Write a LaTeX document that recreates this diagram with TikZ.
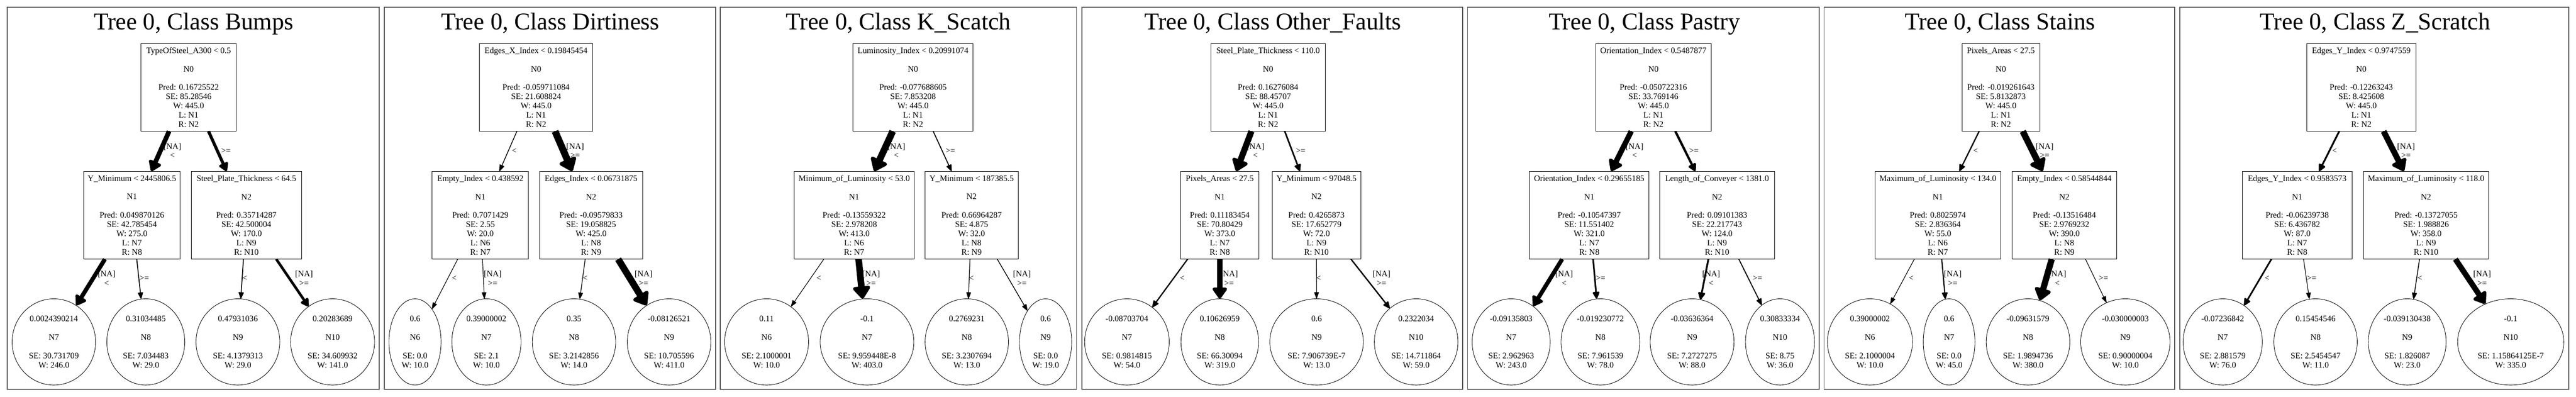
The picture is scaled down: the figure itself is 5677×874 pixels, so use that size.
\documentclass[tikz,border=0pt]{standalone}
\usepackage{fontspec}
\setmainfont{Liberation Serif}
\usetikzlibrary{arrows.meta,shapes.geometric}
\newcommand\gvnf{\fontsize{18.5}{20.3}\selectfont}
\newcommand\gvtf{\fontsize{53}{60}\selectfont}
\tikzset{
  panel/.style={draw=black!67, line width=2pt},
  inner/.style={draw, rectangle, line width=1pt, inner sep=0pt, minimum height=192.8pt, align=center, font=\gvnf},
  leaf/.style={draw, ellipse, line width=1pt, inner sep=0pt, minimum height=190pt, align=center, font=\gvnf},
  elab/.style={inner sep=0pt, align=center, font=\gvnf},
  ttl/.style={inner sep=0pt, anchor=base, font=\gvtf},
  wt/.code={\pgfmathsetmacro\gvlw{1+15*#1/445}\pgfmathsetmacro\gval{14+1.1*\gvlw}\pgfmathsetmacro\gvaw{7+2.5*\gvlw}\tikzset{line width=\gvlw pt,-{Triangle[round,length=\gval pt,width=\gvaw pt]}}}
}
\begin{document}
\begin{tikzpicture}[x=1pt,y=-1pt]
\useasboundingbox (0,0) rectangle (5677,874);
% panels
\draw[panel] (15.7,15.6) rectangle (836,857);
\draw[panel] (846.6,15.6) rectangle (1577.1,857);
\draw[panel] (1587.6,15.6) rectangle (2372.3,857);
\draw[panel] (2384,15.6) rectangle (3223.6,857);
\draw[panel] (3234.2,15.6) rectangle (4009.3,857);
\draw[panel] (4019.8,15.6) rectangle (4792.8,857);
\draw[panel] (4803.4,15.6) rectangle (5660.7,857);
% titles
\node[ttl] (ta) at (427,65) {Tree 0, Class Bumps};
\node[ttl] (tb) at (1213,65) {Tree 0, Class Dirtiness};
\node[ttl] (tc) at (1980,65) {Tree 0, Class K\_Scatch};
\node[ttl] (td) at (2805,65) {Tree 0, Class Other\_Faults};
\node[ttl] (te) at (3624,65) {Tree 0, Class Pastry};
\node[ttl] (tf) at (4407.5,65) {Tree 0, Class Stains};
\node[ttl] (tg) at (5234.5,65) {Tree 0, Class Z\_Scratch};

% ---------- Panel A: Bumps
\node[inner, minimum width=210.6pt] (a0) at (415.7,192.3) {TypeOfSteel\_A300 < 0.5\\[20.3pt]N0\\[20.3pt]Pred: 0.16725522\\SE: 85.28546\\W: 445.0\\L: N1\\R: N2};
\node[inner, minimum width=213.1pt] (a1) at (290.75,473.8) {Y\_Minimum < 2445806.5\\[20.3pt]N1\\[20.3pt]Pred: 0.049870126\\SE: 42.785454\\W: 275.0\\L: N7\\R: N8};
\node[inner, minimum width=242.7pt] (a2) at (542.95,473.8) {Steel\_Plate\_Thickness < 64.5\\[20.3pt]N2\\[20.3pt]Pred: 0.35714287\\SE: 42.500004\\W: 170.0\\L: N9\\R: N10};
\node[leaf, minimum width=184pt] (a7) at (118.7,753) {0.0024390214\\[20.3pt]N7\\[20.3pt]SE: 30.731709\\W: 246.0};
\node[leaf, minimum width=171.7pt] (a8) at (321.3,753) {0.31034485\\[20.3pt]N8\\[20.3pt]SE: 7.034483\\W: 29.0};
\node[leaf, minimum width=184.6pt] (a9) at (524.3,753) {0.47931036\\[20.3pt]N9\\[20.3pt]SE: 4.1379313\\W: 29.0};
\node[leaf, minimum width=185pt] (a10) at (733,753) {0.20283689\\[20.3pt]N10\\[20.3pt]SE: 34.609932\\W: 141.0};
\node[elab] (la01) at (380,332) {[NA]\\<};
\node[elab] (la02) at (498,332) {>=};
\node[elab] (la17) at (235,613) {[NA]\\<};
\node[elab] (la18) at (318,613) {>=};
\node[elab] (la29) at (539.6,613) {<};
\node[elab] (la210) at (670,613) {[NA]\\>=};
\draw[wt=275] (a0) -- (a1);
\draw[wt=170] (a0) -- (a2);
\draw[wt=246] (a1) -- (a7);
\draw[wt=29] (a1) -- (a8);
\draw[wt=29] (a2) -- (a9);
\draw[wt=141] (a2) -- (a10);

% ---------- Panel B: Dirtiness
\node[inner, minimum width=250.4pt] (b0) at (1181.4,192.3) {Edges\_X\_Index < 0.19845454\\[20.3pt]N0\\[20.3pt]Pred: -0.059711084\\SE: 21.608824\\W: 445.0\\L: N1\\R: N2};
\node[inner, minimum width=212.2pt] (b1) at (1058.6,473.8) {Empty\_Index < 0.438592\\[20.3pt]N1\\[20.3pt]Pred: 0.7071429\\SE: 2.55\\W: 20.0\\L: N6\\R: N7};
\node[inner, minimum width=227.1pt] (b2) at (1302.65,473.8) {Edges\_Index < 0.06731875\\[20.3pt]N2\\[20.3pt]Pred: -0.09579833\\SE: 19.058825\\W: 425.0\\L: N8\\R: N9};
\node[leaf, minimum width=114.9pt] (b6) at (914.6,753) {0.6\\[20.3pt]N6\\[20.3pt]SE: 0.0\\W: 10.0};
\node[leaf, minimum width=152.4pt] (b7) at (1072,753) {0.39000002\\[20.3pt]N7\\[20.3pt]SE: 2.1\\W: 10.0};
\node[leaf, minimum width=183.7pt] (b8) at (1265,753) {0.35\\[20.3pt]N8\\[20.3pt]SE: 3.2142856\\W: 14.0};
\node[leaf, minimum width=184.2pt] (b9) at (1474.5,753) {-0.08126521\\[20.3pt]N9\\[20.3pt]SE: 10.705596\\W: 411.0};
\node[elab] (lb01) at (1133.5,332) {<};
\node[elab] (lb02) at (1267.4,332) {[NA]\\>=};
\node[elab] (lb16) at (1001,613) {<};
\node[elab] (lb17) at (1085.9,613) {[NA]\\>=};
\node[elab] (lb28) at (1289.7,613) {<};
\node[elab] (lb29) at (1418.3,613) {[NA]\\>=};
\draw[wt=20] (b0) -- (b1);
\draw[wt=425] (b0) -- (b2);
\draw[wt=10] (b1) -- (b6);
\draw[wt=10] (b1) -- (b7);
\draw[wt=14] (b2) -- (b8);
\draw[wt=411] (b2) -- (b9);

% ---------- Panel C: K_Scatch
\node[inner, minimum width=264.2pt] (c0) at (2012.1,192.3) {Luminosity\_Index < 0.20991074\\[20.3pt]N0\\[20.3pt]Pred: -0.077688605\\SE: 7.853208\\W: 445.0\\L: N1\\R: N2};
\node[inner, minimum width=264.1pt] (c1) at (1882.35,473.8) {Minimum\_of\_Luminosity < 53.0\\[20.3pt]N1\\[20.3pt]Pred: -0.13559322\\SE: 2.978208\\W: 413.0\\L: N6\\R: N7};
\node[inner, minimum width=204.9pt] (c2) at (2141.25,473.8) {Y\_Minimum < 187385.5\\[20.3pt]N2\\[20.3pt]Pred: 0.66964287\\SE: 4.875\\W: 32.0\\L: N8\\R: N9};
\node[leaf, minimum width=185pt] (c6) at (1689.4,753) {0.11\\[20.3pt]N6\\[20.3pt]SE: 2.1000001\\W: 10.0};
\node[leaf, minimum width=206.5pt] (c7) at (1910.7,753) {-0.1\\[20.3pt]N7\\[20.3pt]SE: 9.959448E-8\\W: 403.0};
\node[leaf, minimum width=183.7pt] (c8) at (2130.6,753) {0.2769231\\[20.3pt]N8\\[20.3pt]SE: 3.2307694\\W: 13.0};
\node[leaf, minimum width=114.9pt] (c9) at (2304.3,753) {0.6\\[20.3pt]N9\\[20.3pt]SE: 0.0\\W: 19.0};
\node[elab] (lc01) at (1975.3,332) {[NA]\\<};
\node[elab] (lc02) at (2094.4,332) {>=};
\node[elab] (lc16) at (1804.3,613) {<};
\node[elab] (lc17) at (1919.7,613) {[NA]\\>=};
\node[elab] (lc28) at (2141,613) {<};
\node[elab] (lc29) at (2252.1,613) {[NA]\\>=};
\draw[wt=413] (c0) -- (c1);
\draw[wt=32] (c0) -- (c2);
\draw[wt=10] (c1) -- (c6);
\draw[wt=403] (c1) -- (c7);
\draw[wt=13] (c2) -- (c8);
\draw[wt=19] (c2) -- (c9);

% ---------- Panel D: Other_Faults
\node[inner, minimum width=251.5pt] (d0) at (2794.55,192.3) {Steel\_Plate\_Thickness < 110.0\\[20.3pt]N0\\[20.3pt]Pred: 0.16276084\\SE: 88.45707\\W: 445.0\\L: N1\\R: N2};
\node[inner, minimum width=172.1pt] (d1) at (2688.15,473.8) {Pixels\_Areas < 27.5\\[20.3pt]N1\\[20.3pt]Pred: 0.11183454\\SE: 70.80429\\W: 373.0\\L: N7\\R: N8};
\node[inner, minimum width=194.8pt] (d2) at (2901.2,473.8) {Y\_Minimum < 97048.5\\[20.3pt]N2\\[20.3pt]Pred: 0.4265873\\SE: 17.652779\\W: 72.0\\L: N9\\R: N10};
\node[leaf, minimum width=186.4pt] (d7) at (2483.5,753) {-0.08703704\\[20.3pt]N7\\[20.3pt]SE: 0.9814815\\W: 54.0};
\node[leaf, minimum width=171pt] (d8) at (2688.1,753) {0.10626959\\[20.3pt]N8\\[20.3pt]SE: 66.30094\\W: 319.0};
\node[leaf, minimum width=206pt] (d9) at (2901.5,753) {0.6\\[20.3pt]N9\\[20.3pt]SE: 7.906739E-7\\W: 13.0};
\node[leaf, minimum width=184.2pt] (d10) at (3120.9,753) {0.2322034\\[20.3pt]N10\\[20.3pt]SE: 14.711864\\W: 59.0};
\node[elab] (ld01) at (2766.7,332) {[NA]\\<};
\node[elab] (ld02) at (2866.3,332) {>=};
\node[elab] (ld17) at (2605.3,613) {<};
\node[elab] (ld18) at (2708.5,613) {[NA]\\>=};
\node[elab] (ld29) at (2906,613) {<};
\node[elab] (ld210) at (3044.7,613) {[NA]\\>=};
\draw[wt=373] (d0) -- (d1);
\draw[wt=72] (d0) -- (d2);
\draw[wt=54] (d1) -- (d7);
\draw[wt=319] (d1) -- (d8);
\draw[wt=13] (d2) -- (d9);
\draw[wt=59] (d2) -- (d10);

% ---------- Panel E: Pastry
\node[inner, minimum width=254.6pt] (e0) at (3643.7,192.3) {Orientation\_Index < 0.5487877\\[20.3pt]N0\\[20.3pt]Pred: -0.050722316\\SE: 33.769146\\W: 445.0\\L: N1\\R: N2};
\node[inner, minimum width=263.1pt] (e1) at (3502.35,473.8) {Orientation\_Index < 0.29655185\\[20.3pt]N1\\[20.3pt]Pred: -0.10547397\\SE: 11.551402\\W: 321.0\\L: N7\\R: N8};
\node[inner, minimum width=252.6pt] (e2) at (3784,473.8) {Length\_of\_Conveyer < 1381.0\\[20.3pt]N2\\[20.3pt]Pred: 0.09101383\\SE: 22.217743\\W: 124.0\\L: N9\\R: N10};
\node[leaf, minimum width=172pt] (e7) at (3330.3,753) {-0.09135803\\[20.3pt]N7\\[20.3pt]SE: 2.962963\\W: 243.0};
\node[leaf, minimum width=173.6pt] (e8) at (3527,753) {-0.019230772\\[20.3pt]N8\\[20.3pt]SE: 7.961539\\W: 78.0};
\node[leaf, minimum width=184.8pt] (e9) at (3729,753) {-0.03636364\\[20.3pt]N9\\[20.3pt]SE: 7.2727275\\W: 88.0};
\node[leaf, minimum width=152pt] (e10) at (3922.7,753) {0.30833334\\[20.3pt]N10\\[20.3pt]SE: 8.75\\W: 36.0};
\node[elab] (le01) at (3602.2,332) {[NA]\\<};
\node[elab] (le02) at (3732.9,332) {>=};
\node[elab] (le17) at (3447,613) {[NA]\\<};
\node[elab] (le18) at (3527.5,613) {>=};
\node[elab] (le29) at (3771,613) {[NA]\\<};
\node[elab] (le210) at (3873.2,613) {>=};
\draw[wt=321] (e0) -- (e1);
\draw[wt=124] (e0) -- (e2);
\draw[wt=243] (e1) -- (e7);
\draw[wt=78] (e1) -- (e8);
\draw[wt=88] (e2) -- (e9);
\draw[wt=36] (e2) -- (e10);

% ---------- Panel F: Stains
\node[inner, minimum width=171.6pt] (f0) at (4409.5,192.3) {Pixels\_Areas < 27.5\\[20.3pt]N0\\[20.3pt]Pred: -0.019261643\\SE: 5.8132873\\W: 445.0\\L: N1\\R: N2};
\node[inner, minimum width=276.9pt] (f1) at (4270.55,473.8) {Maximum\_of\_Luminosity < 134.0\\[20.3pt]N1\\[20.3pt]Pred: 0.8025974\\SE: 2.836364\\W: 55.0\\L: N6\\R: N7};
\node[inner, minimum width=230.8pt] (f2) at (4549.3,473.8) {Empty\_Index < 0.58544844\\[20.3pt]N2\\[20.3pt]Pred: -0.13516484\\SE: 2.9769232\\W: 390.0\\L: N8\\R: N9};
\node[leaf, minimum width=187.4pt] (f6) at (4121,753) {0.39000002\\[20.3pt]N6\\[20.3pt]SE: 2.1000004\\W: 10.0};
\node[leaf, minimum width=113.8pt] (f7) at (4295.4,753) {0.6\\[20.3pt]N7\\[20.3pt]SE: 0.0\\W: 45.0};
\node[leaf, minimum width=184.2pt] (f8) at (4469.3,753) {-0.09631579\\[20.3pt]N8\\[20.3pt]SE: 1.9894736\\W: 380.0};
\node[leaf, minimum width=197pt] (f9) at (4683.8,753) {-0.030000003\\[20.3pt]N9\\[20.3pt]SE: 0.90000004\\W: 10.0};
\node[elab] (lf01) at (4353.9,332) {<};
\node[elab] (lf02) at (4505.9,332) {[NA]\\>=};
\node[elab] (lf16) at (4212,613) {<};
\node[elab] (lf17) at (4303.6,613) {[NA]\\>=};
\node[elab] (lf28) at (4533.9,613) {[NA]\\<};
\node[elab] (lf29) at (4635.6,613) {>=};
\draw[wt=55] (f0) -- (f1);
\draw[wt=390] (f0) -- (f2);
\draw[wt=10] (f1) -- (f6);
\draw[wt=45] (f1) -- (f7);
\draw[wt=380] (f2) -- (f8);
\draw[wt=10] (f2) -- (f9);

% ---------- Panel G: Z_Scratch
\node[inner, minimum width=241.4pt] (g0) at (5203.8,192.3) {Edges\_Y\_Index < 0.9747559\\[20.3pt]N0\\[20.3pt]Pred: -0.12263243\\SE: 8.425608\\W: 445.0\\L: N1\\R: N2};
\node[inner, minimum width=241.4pt] (g1) at (5062.5,473.8) {Edges\_Y\_Index < 0.9583573\\[20.3pt]N1\\[20.3pt]Pred: -0.06239738\\SE: 6.436782\\W: 87.0\\L: N7\\R: N8};
\node[inner, minimum width=276.9pt] (g2) at (5346.45,473.8) {Maximum\_of\_Luminosity < 118.0\\[20.3pt]N2\\[20.3pt]Pred: -0.13727055\\SE: 1.988826\\W: 358.0\\L: N9\\R: N10};
\node[leaf, minimum width=174.6pt] (g7) at (4898.4,753) {-0.07236842\\[20.3pt]N7\\[20.3pt]SE: 2.881579\\W: 76.0};
\node[leaf, minimum width=183.7pt] (g8) at (5103,753) {0.15454546\\[20.3pt]N8\\[20.3pt]SE: 2.5454547\\W: 11.0};
\node[leaf, minimum width=171.5pt] (g9) at (5305,753) {-0.039130438\\[20.3pt]N9\\[20.3pt]SE: 1.826087\\W: 23.0};
\node[leaf, minimum width=234pt] (g10) at (5533.1,753) {-0.1\\[20.3pt]N10\\[20.3pt]SE: 1.15864125E-7\\W: 335.0};
\node[elab] (lg01) at (5145,332) {<};
\node[elab] (lg02) at (5302.3,332) {[NA]\\>=};
\node[elab] (lg17) at (4996.3,613) {<};
\node[elab] (lg18) at (5094.2,613) {>=};
\node[elab] (lg29) at (5333,613) {<};
\node[elab] (lg210) at (5470.1,613) {[NA]\\>=};
\draw[wt=87] (g0) -- (g1);
\draw[wt=358] (g0) -- (g2);
\draw[wt=76] (g1) -- (g7);
\draw[wt=11] (g1) -- (g8);
\draw[wt=23] (g2) -- (g9);
\draw[wt=335] (g2) -- (g10);
\end{tikzpicture}
\end{document}
